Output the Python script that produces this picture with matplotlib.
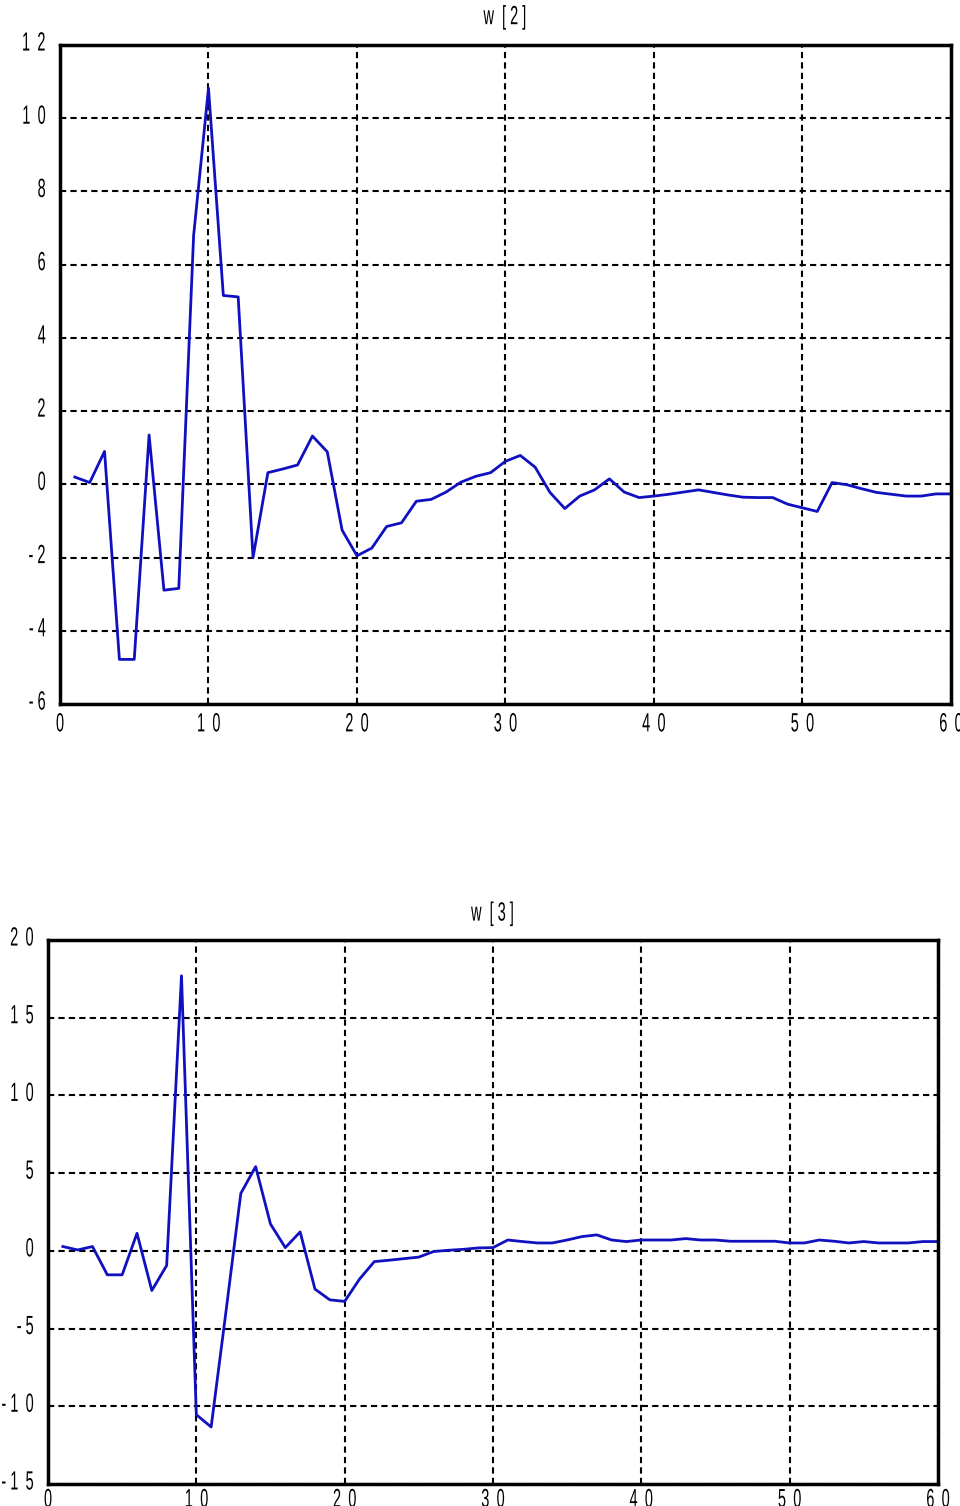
import matplotlib
matplotlib.use('Agg')
import matplotlib.pyplot as plt
from matplotlib.patheffects import AbstractPathEffect
from matplotlib.transforms import Affine2D

plt.rcParams['font.family'] = ['Liberation Sans', 'DejaVu Sans']

# datos w[2]
x2 = list(range(1, 61))
w2 = [0.2, 0.05, 0.9, -4.78, -4.78, 1.35, -2.89, -2.84, 6.8, 10.82,
      5.16, 5.12, -2.0, 0.32, 0.42, 0.53, 1.32, 0.89, -1.25, -1.95,
      -1.74, -1.15, -1.05, -0.46, -0.41, -0.21, 0.06, 0.22, 0.32, 0.63,
      0.79, 0.47, -0.22, -0.66, -0.32, -0.15, 0.15, -0.21, -0.36, -0.32,
      -0.27, -0.21, -0.15, -0.22, -0.29, -0.35, -0.36, -0.36, -0.54, -0.64,
      -0.74, 0.05, -0.01, -0.12, -0.22, -0.27, -0.32, -0.32, -0.26, -0.26]

# datos w[3]
x3 = list(range(1, 61))
w3 = [0.28, 0.06, 0.28, -1.54, -1.54, 1.13, -2.55, -0.94, 17.7, -10.54,
      -11.33, -3.9, 3.7, 5.42, 1.73, 0.21, 1.22, -2.46, -3.15, -3.25,
      -1.82, -0.69, -0.6, -0.5, -0.4, -0.04, 0.04, 0.1, 0.19, 0.21,
      0.7, 0.6, 0.51, 0.51, 0.7, 0.92, 1.03, 0.7, 0.6, 0.7,
      0.7, 0.7, 0.79, 0.7, 0.7, 0.62, 0.62, 0.62, 0.62, 0.51,
      0.51, 0.7, 0.62, 0.51, 0.6, 0.51, 0.51, 0.51, 0.6, 0.6]

xticks = [0, 10, 20, 30, 40, 50, 60]
yticks2 = [-6, -4, -2, 0, 2, 4, 6, 8, 10, 12]
yticks3 = [-15, -10, -5, 0, 5, 10, 15, 20]


class Narrow(AbstractPathEffect):
    # comprime el texto horizontalmente (fuente condensada)
    def __init__(self, sx=0.55, anchor='center', dy=0):
        super().__init__()
        self.sx, self.anchor, self.dy = sx, anchor, dy

    def draw_path(self, renderer, gc, tpath, affine, rgbFace=None):
        ext = tpath.get_extents()
        if self.anchor == 'right':
            cx = ext.x1
        else:
            cx = (ext.x0 + ext.x1) / 2
        t = (Affine2D().translate(-cx, 0).scale(self.sx, 1).translate(cx, 0)
             + affine + Affine2D().translate(0, self.dy))
        renderer.draw_path(gc, tpath, t, rgbFace)


def spaced(v):
    # etiquetas con espacio entre caracteres
    s = str(abs(v))
    txt = '\u2002'.join(s)
    if v < 0:
        txt = '- ' + txt
    return txt


def draw(ax, x, y, yticks, title, xpad, tpad):
    ax.plot(x, y, color='#1010c0', lw=2)
    ax.set_xlim(0, 60)
    ax.set_ylim(yticks[0], yticks[-1])
    ax.set_xticks(xticks)
    ax.set_xticklabels([spaced(t) for t in xticks])
    ax.set_yticks(yticks)
    ax.set_yticklabels([spaced(t) for t in yticks])
    ax.tick_params(length=0, labelsize=19)
    ax.tick_params(axis='y', pad=10)
    ax.tick_params(axis='x', pad=xpad)
    for lab in ax.get_xticklabels():
        lab.set_path_effects([Narrow(0.55, 'center')])
    for lab in ax.get_yticklabels():
        lab.set_path_effects([Narrow(0.55, 'right', dy=4)])
    ax.grid(True, color='black', linestyle=(0, (3, 2)), lw=1.5)
    for s in ax.spines.values():
        s.set_linewidth(2.5)
    t = ax.set_title(title, fontsize=19, pad=tpad)
    t.set_path_effects([Narrow(0.55, 'center')])


fig = plt.figure(figsize=(9.6, 15.06), dpi=100)
ax1 = fig.add_axes([0.0625, 0.5325, 0.928, 0.4376])
ax2 = fig.add_axes([0.05, 0.0146, 0.927, 0.3612])

draw(ax1, x2, w2, yticks2, 'w  [ 2 ]', 6, 15)
draw(ax2, x3, w3, yticks3, 'w  [ 3 ]', 3, 14)

fig.savefig('out.png', dpi=100)
